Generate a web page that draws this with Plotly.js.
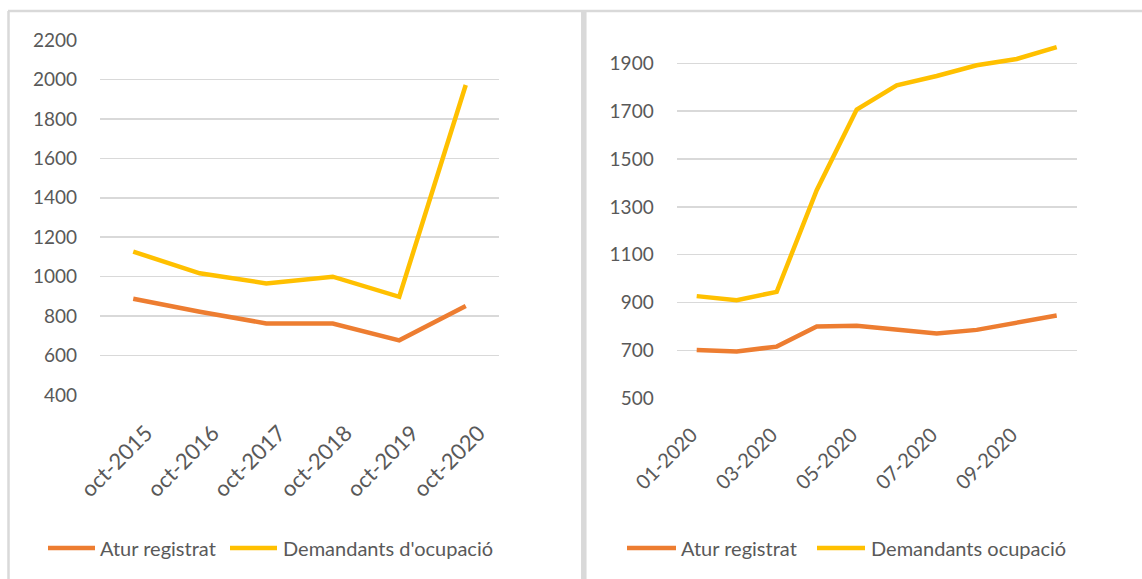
<!DOCTYPE html>
<html>
<head>
<meta charset="utf-8">
<script src="https://cdn.plot.ly/plotly-3.0.1.min.js"></script>
<style>html,body{margin:0;padding:0;background:#fff;}#chart{width:1142px;height:579px;}</style>
</head>
<body>
<div id="chart"></div>
<script>
// Left chart: yearly (October)
const yearCats = ["oct-2015", "oct-2016", "oct-2017", "oct-2018", "oct-2019", "oct-2020"];
const yearAtur = [888, 822, 763, 762, 677, 851];
const yearDemandants = [1127, 1017, 966, 1000, 898, 1972];

// Right chart: monthly 2020
const monthCats = ["01-2020", "02-2020", "03-2020", "04-2020", "05-2020", "06-2020", "07-2020", "08-2020", "09-2020", "10-2020"];
const monthTickLabels = ["01-2020", "", "03-2020", "", "05-2020", "", "07-2020", "", "09-2020", ""];
const monthAtur = [702, 696, 716, 800, 803, 785, 771, 786, 816, 846];
const monthDemandants = [927, 910, 945, 1370, 1707, 1808, 1847, 1892, 1918, 1968];

// Legend labels
const leftNames = ["Atur registrat", "Demandants d'ocupació"];
const rightNames = ["Atur registrat", "Demandants ocupació"];

const ORANGE = "#ED7D31", YELLOW = "#FFC000", TXT = "#595959", GRID = "#D9D9D9";
const FONT = "Lato, 'Open Sans', sans-serif";
const W = 1142, H = 579;

const traces = [
  {x: yearCats, y: yearAtur, name: leftNames[0], type: "scatter", mode: "lines",
   line: {color: ORANGE, width: 4.5}, xaxis: "x", yaxis: "y"},
  {x: yearCats, y: yearDemandants, name: leftNames[1], type: "scatter", mode: "lines",
   line: {color: YELLOW, width: 4.5}, xaxis: "x", yaxis: "y"},
  {x: monthCats, y: monthAtur, name: rightNames[0], type: "scatter", mode: "lines",
   line: {color: ORANGE, width: 4.5}, xaxis: "x2", yaxis: "y2"},
  {x: monthCats, y: monthDemandants, name: rightNames[1], type: "scatter", mode: "lines",
   line: {color: YELLOW, width: 4.5}, xaxis: "x2", yaxis: "y2"}
];

const yBase = {showline: false, zeroline: false, ticks: "", gridcolor: GRID, gridwidth: 1.5,
  tickfont: {family: FONT, size: 19, color: TXT}, ticklabelstandoff: 22, fixedrange: true};
const xBase = {type: "category", showline: false, zeroline: false, showgrid: false, ticks: "",
  tickangle: -45, ticklabelstandoff: 20, fixedrange: true};

// Legend (drawn as line samples + text, matching the reference geometry)
const legY = (H - 548) / H;
const legendItems = [
  {x0: 48, x1: 95, tx: 98, color: ORANGE, text: leftNames[0]},
  {x0: 230, x1: 277, tx: 281, color: YELLOW, text: leftNames[1]},
  {x0: 627, x1: 676, tx: 679, color: ORANGE, text: rightNames[0]},
  {x0: 817, x1: 865, tx: 869, color: YELLOW, text: rightNames[1]}
];
const legendShapes = legendItems.map(it => ({type: "line", xref: "paper", yref: "paper",
  x0: it.x0 / W, x1: it.x1 / W, y0: legY, y1: legY, line: {color: it.color, width: 4.5}}));
const legendAnns = legendItems.map(it => ({xref: "paper", yref: "paper", x: it.tx / W, y: legY,
  xanchor: "left", yanchor: "middle", showarrow: false, text: it.text,
  font: {family: FONT, size: 20, color: TXT}}));

const layout = {
  width: W, height: H,
  margin: {l: 0, r: 0, t: 0, b: 0},
  paper_bgcolor: "#fff", plot_bgcolor: "#fff",
  font: {family: FONT, color: TXT},
  showlegend: false,
  xaxis: Object.assign({}, xBase, {domain: [100/W, 499/W], range: [-0.5, 5.5], anchor: "y", ticklabelshift: 13,
    tickfont: {family: FONT, size: 22, color: TXT}}),
  yaxis: Object.assign({}, yBase, {domain: [(H-395)/H, (H-40)/H], range: [400, 2200], tick0: 400, dtick: 200, anchor: "x"}),
  xaxis2: Object.assign({}, xBase, {domain: [676.7/W, 1076.7/W], range: [-0.5, 9.5], anchor: "y2",
    tickmode: "array", tickvals: monthCats, ticktext: monthTickLabels, ticklabelshift: -5,
    tickfont: {family: FONT, size: 20, color: TXT}}),
  yaxis2: Object.assign({}, yBase, {domain: [(H-398.3)/H, (H-39.4)/H], range: [500, 2000], tick0: 500, dtick: 200, anchor: "x2"}),
  shapes: [
    {type: "line", xref: "paper", yref: "paper", x0: 8/W, x1: 1, y0: (H-11)/H, y1: (H-11)/H, line: {color: GRID, width: 2.5}},
    {type: "line", xref: "paper", yref: "paper", x0: 8.5/W, x1: 8.5/W, y0: 0, y1: (H-11)/H, line: {color: GRID, width: 2.5}},
    {type: "line", xref: "paper", yref: "paper", x0: 583.8/W, x1: 583.8/W, y0: 0, y1: (H-11)/H, line: {color: GRID, width: 5.5}}
  ].concat(legendShapes),
  annotations: legendAnns
};

Plotly.newPlot("chart", traces, layout, {displayModeBar: false, staticPlot: true});
</script>
</body>
</html>
